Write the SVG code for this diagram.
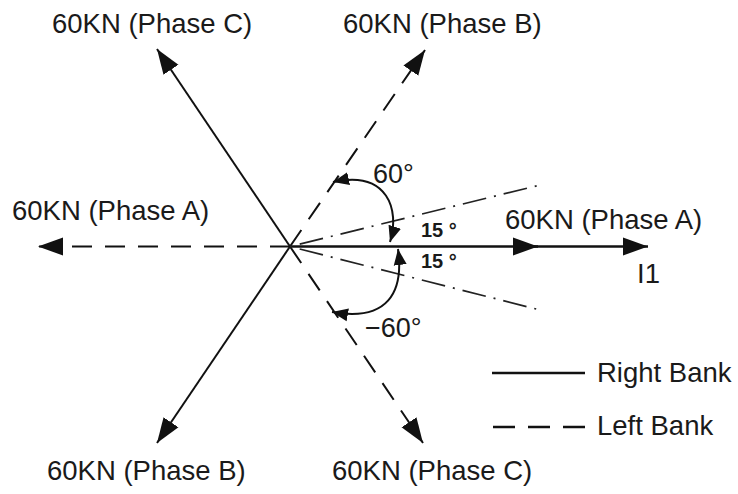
<svg xmlns="http://www.w3.org/2000/svg" width="738" height="494" viewBox="0 0 738 494">
<style>
text{font-family:"Liberation Sans",Arial,sans-serif;fill:#1a1a1a}
.lbl{font-size:27.5px}
.ang{font-size:27px}
.sm{font-size:20px;font-weight:bold}
.solid{stroke:#111;stroke-width:2;fill:none}
.dash{stroke:#111;stroke-width:2;fill:none;stroke-dasharray:20 13}
.dd{stroke:#222;stroke-width:1.7;fill:none;stroke-dasharray:24 8 2 8}
.arc{stroke:#111;stroke-width:2;fill:none}
</style>
<defs>
<marker id="ah" markerUnits="userSpaceOnUse" viewBox="0 -10 26 20" refX="25" refY="0" markerWidth="26" markerHeight="20" orient="auto">
<path d="M0 -9 L25 0 L0 9 z" fill="#111"/>
</marker>
<marker id="sh" markerUnits="userSpaceOnUse" viewBox="0 -7 17 14" refX="16" refY="0" markerWidth="17" markerHeight="14" orient="auto-start-reverse">
<path d="M0 -6.5 L16 0 L0 6.5 z" fill="#111"/>
</marker>
</defs>
<g id="connectors">
<line class="solid" x1="290" y1="246.5" x2="157" y2="49" marker-end="url(#ah)"/>
<line class="dash" x1="290" y1="246.5" x2="425" y2="50" marker-end="url(#ah)"/>
<line class="dash" x1="290" y1="246.5" x2="38" y2="246.5" marker-end="url(#ah)"/>
<line class="solid" x1="290" y1="246.5" x2="538" y2="246.5" style="stroke-width:2.6" marker-end="url(#ah)"/>
<line class="solid" x1="520" y1="246.5" x2="648" y2="246.5" style="stroke-width:2.6" marker-end="url(#ah)"/>
<line class="solid" x1="290" y1="246.5" x2="157" y2="443" marker-end="url(#ah)"/>
<line class="dash" x1="290" y1="246.5" x2="423" y2="443" marker-end="url(#ah)"/>
<line class="dd" x1="290" y1="246.5" x2="540" y2="185" style="stroke-dashoffset:-10"/>
<line class="dd" x1="290" y1="246.5" x2="540" y2="310" style="stroke-dashoffset:-10"/>
<path class="arc" d="M390 242 C400 210 388 170 333 182" marker-start="url(#sh)" marker-end="url(#sh)"/>
<path class="arc" d="M398 249 C404 292 388 322 332 312" marker-start="url(#sh)" marker-end="url(#sh)"/>
</g>
<g id="phaseC-top"><text class="lbl" x="52" y="33">60KN (Phase C)</text></g>
<g id="phaseB-top"><text class="lbl" x="343" y="33">60KN (Phase B)</text></g>
<g id="phaseA-left"><text class="lbl" x="12" y="220">60KN (Phase A)</text></g>
<g id="phaseA-right"><text class="lbl" x="505" y="229">60KN (Phase A)</text></g>
<g id="i1"><text class="lbl" x="637" y="283">I1</text></g>
<g id="phaseB-bottom"><text class="lbl" x="47" y="480">60KN (Phase B)</text></g>
<g id="phaseC-bottom"><text class="lbl" x="332" y="480">60KN (Phase C)</text></g>
<g id="angle-pos60"><text class="ang" x="373" y="183">60°</text></g>
<g id="angle-neg60"><text class="ang" x="365" y="337">−60°</text></g>
<g id="angle-15-up"><text class="sm" x="421" y="237">15 °</text></g>
<g id="angle-15-down"><text class="sm" x="421" y="268">15 °</text></g>
<g id="legend">
<line x1="492" y1="373" x2="585" y2="373" stroke="#111" stroke-width="2.7"/>
<text class="lbl" x="597" y="382">Right Bank</text>
<line x1="493" y1="427" x2="585" y2="427" stroke="#111" stroke-width="2.7" stroke-dasharray="22 13"/>
<text class="lbl" x="597" y="435">Left Bank</text>
</g>
</svg>
